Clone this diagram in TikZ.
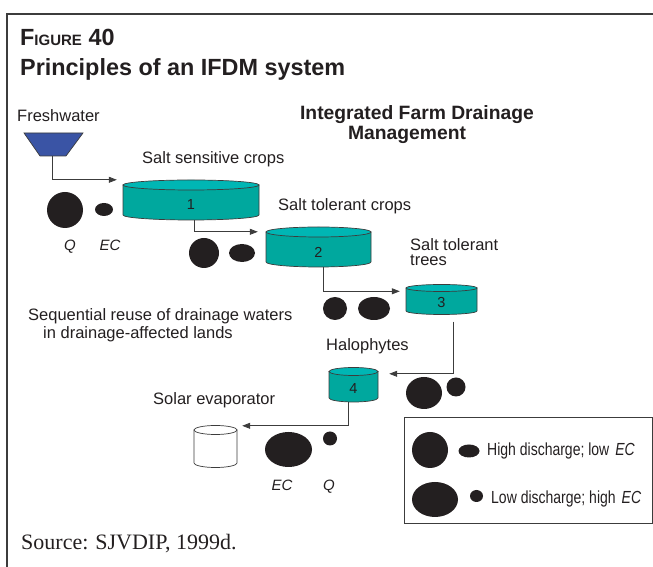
\documentclass[tikz,border=0pt]{standalone}
\usepackage{fontspec}
\setmainfont{Liberation Sans}
\newfontfamily\sourcefont{Liberation Serif}
\newfontfamily\keyfont[FakeStretch=0.8]{Liberation Sans}
\usetikzlibrary{shapes.geometric,arrows.meta}

\definecolor{ink}{RGB}{35,31,32}
\definecolor{edge}{RGB}{60,60,60}
\definecolor{tankbody}{RGB}{0,168,158}
\definecolor{tanktop}{RGB}{0,182,180}
\definecolor{funnelblue}{RGB}{58,84,165}

% tank: [extra], name, centre x, top y, bottom y, half width, rim, number
\newcommand{\tank}[8][]{%
  \filldraw[tankwall,#1] ({#3-#6},#4) -- ({#3-#6},#5)
    arc[start angle=180,end angle=360,x radius=#6,y radius=#7] -- ({#3+#6},#4) -- cycle;
  \filldraw[tankrim,#1] (#3,#4) ellipse[x radius=#6,y radius=#7];
  \node[tanklabel,minimum width={2*#6},minimum height={#4-#5}] (#2) at (#3,{(#4+#5)/2-#7}) {#8};
}

\begin{document}
\begin{tikzpicture}[x=1pt,y=1pt,
  txt/.style={anchor=base west,inner sep=0pt,text=ink,font=\fontsize{16.5}{18}\selectfont},
  head/.style={anchor=base west,inner sep=0pt,text=ink,font=\bfseries\fontsize{23.4}{24}\selectfont},
  subhead/.style={anchor=base,inner sep=0pt,text=ink,font=\bfseries\fontsize{19.3}{20}\selectfont},
  symlabel/.style={anchor=base,inner sep=0pt,text=ink,font=\itshape\fontsize{15}{15}\selectfont},
  keytext/.style={anchor=base west,inner sep=0pt,text=ink,font=\keyfont\fontsize{17.5}{18}\selectfont},
  tankwall/.style={draw=edge,line width=0.7pt,fill=tankbody},
  tankrim/.style={draw=edge,line width=0.7pt,fill=tanktop},
  tanklabel/.style={inner sep=0pt,text=ink,font=\fontsize{14.5}{14.5}\selectfont},
  funnel/.style={fill=funnelblue,draw=edge,line width=0.7pt},
  blob/.style 2 args={ellipse,fill=ink,inner sep=0pt,minimum width=#1,minimum height=#2},
  flow/.style={draw=edge,line width=0.8pt,-{Triangle[length=8pt,width=6pt]}},
  frame/.style={draw=edge,line width=1.6pt},
  keybox/.style={draw=edge,line width=0.9pt,inner sep=0pt}
]
  \useasboundingbox (0,0) rectangle (653,567);
  \draw[frame] (7,0) -- (7,553) -- (653,553);

  \node[head] (fig) at (20,521) {F{\fontsize{15}{16}\selectfont IGURE} 40};
  \node[head] (title) at (20,491) {Principles of an IFDM system};
  \node[subhead] (ifdm1) at (417,447) {Integrated Farm Drainage};
  \node[subhead] (ifdm2) at (407,427) {Management};

  \node[txt] (freshlbl) at (17,445.5) {Freshwater};
  \filldraw[funnel] (24,434) -- (83,434) -- (66,411) -- (40,411) -- cycle;
  \coordinate (fresh) at (52,411);

  \node[txt] (lbl1) at (142,403) {Salt sensitive crops};
  \node[txt] (lbl2) at (278,356) {Salt tolerant crops};
  \node[txt] (lbl3a) at (410,316.3) {Salt tolerant};
  \node[txt] (lbl3b) at (410,301) {trees};
  \node[txt] (seq1) at (28,246) {Sequential reuse of drainage waters};
  \node[txt] (seq2) at (43,228) {in drainage-affected lands};
  \node[txt] (lbl4) at (326,216) {Halophytes};
  \node[txt] (lbl5) at (153,162) {Solar evaporator};

  \tank{t1}{191}{382}{352}{68}{5}{1}
  \tank{t2}{318.5}{335}{305}{52.5}{5}{2}
  \tank{t3}{441.5}{279}{256}{35.5}{3.5}{3}
  \tank{t4}{353.5}{195.5}{169}{24.5}{4}{4}
  \tank[fill=white]{solar}{215.5}{137}{104}{21.5}{4.5}{}

  \draw[flow] (fresh) |- ([xshift=-6pt,yshift=10pt]t1.north west);
  \draw[flow] ([xshift=3pt]t1.south) |- ([xshift=-8pt,yshift=5pt]t2.north west);
  \draw[flow] ([xshift=4.5pt]t2.south) |- ([xshift=-6pt]t3.north west);
  \draw[flow] ([xshift=11.5pt,yshift=-7pt]t3.south) |- ([xshift=11pt,yshift=1.5pt]t4.north east);
  \draw[flow] ([xshift=-5.5pt]t4.south) |- ([xshift=5pt,yshift=8.5pt]solar.north east);

  \node[blob={36}{36}] (q1) at (65,357) {};
  \node[blob={18}{13}] (ec1) at (104,357.5) {};
  \node[symlabel] (q1lbl) at (70,316) {Q};
  \node[symlabel] (ec1lbl) at (110,316) {EC};
  \node[blob={30}{30}] (q2) at (204,314) {};
  \node[blob={26}{18}] (ec2) at (242,314) {};
  \node[blob={24}{23}] (q3) at (335,258.5) {};
  \node[blob={32}{23}] (ec3) at (374,258.5) {};
  \node[blob={36}{32}] (ec4) at (424,174) {};
  \node[blob={19}{19}] (q4) at (456,180) {};
  \node[blob={47}{35}] (ec5) at (288.5,117.5) {};
  \node[blob={14}{14}] (q5) at (330,128.5) {};
  \node[symlabel] (ec5lbl) at (282,76) {EC};
  \node[symlabel] (q5lbl) at (329,76) {Q};

  \node[keybox,minimum width=248pt,minimum height=106pt] (key) at (528,97) {};
  \node[blob={36}{36}] (keyq1) at (430,117) {};
  \node[blob={21}{13}] (keyec1) at (469,116) {};
  \node[keytext] (keyhigh) at (487,111) {High discharge; low\hspace{6pt}\textit{EC}};
  \node[blob={46}{35}] (keyec2) at (435,67.5) {};
  \node[blob={13}{12}] (keyq2) at (476.5,71) {};
  \node[keytext] (keylow) at (491,63) {Low discharge; high\hspace{6pt}\textit{EC}};

  \node[anchor=base west,inner sep=0pt,text=ink,font=\sourcefont\fontsize{22}{24}\selectfont]
    (source) at (21,17) {Source:\hspace{7pt}SJVDIP, 1999d.};
\end{tikzpicture}
\end{document}
